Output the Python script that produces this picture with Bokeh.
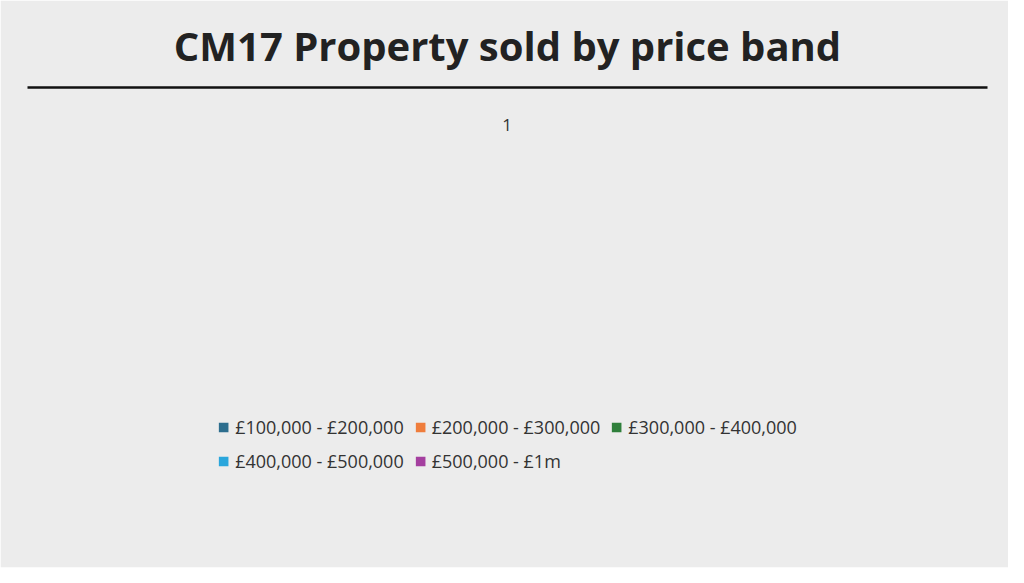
from bokeh.plotting import figure
from bokeh.models import ColumnDataSource, Legend, LegendItem, Title, FixedTicker
from bokeh.core.properties import value
from bokeh.embed import file_html
from bokeh.resources import INLINE

bands = ["£100,000 - £200,000", "£200,000 - £300,000", "£300,000 - £400,000",
         "£400,000 - £500,000", "£500,000 - £1m"]
counts = [3, 8, 15, 8, 8]
colors = ["#2d6e8e", "#ef7d3c", "#2f7f3b", "#2aa6dc", "#a43f9f"]
xs = [0, 1, 2, 3, 4]

p = figure(width=1008, height=567, output_backend="svg", toolbar_location=None,
           x_range=(-0.825, 4.83), y_range=(0, 16),
           background_fill_color="#efefef", border_fill_color="#ececec",
           min_border_left=27, min_border_right=21, min_border_top=10, min_border_bottom=10)
p.outline_line_color = None
t = Title(text="CM17 Property sold by price band", align="center",
          text_font="Open Sans", text_font_size="40px", text_font_style="bold",
          text_color="#222222", standoff=30)
p.add_layout(t, "above")

src = ColumnDataSource(dict(x=xs, top=counts, c=colors, band=bands,
                            lab=[str(v) for v in counts]))
r = p.vbar(x="x", top="top", width=0.99, fill_color="c", line_color=None, source=src)
p.text(x="x", y="top", text="lab", y_offset=27, text_align="center", text_baseline="middle",
       text_color="white", text_font=value("Open Sans"), text_font_style="bold",
       text_font_size="17px", source=src)

p.yaxis.visible = False
p.ygrid.ticker = FixedTicker(ticks=list(range(2, 17, 2)))
p.ygrid.grid_line_color = "#cfcfcf"
p.ygrid.grid_line_width = 1.5
p.xgrid.visible = False
p.xaxis.ticker = FixedTicker(ticks=[2])
p.xaxis.major_label_overrides = {2: "1"}
p.xaxis.major_tick_line_color = None
p.xaxis.minor_tick_line_color = None
p.xaxis.axis_line_color = "#111111"
p.xaxis.axis_line_width = 2.5
p.xaxis.major_label_standoff = 25
p.xaxis.major_label_text_font = "Open Sans"
p.xaxis.major_label_text_font_size = "17px"
p.xaxis.major_label_text_color = "#333333"

items = [LegendItem(label=b, renderers=[r], index=i) for i, b in enumerate(bands)]
leg = Legend(items=items, orientation="horizontal", ncols=3, location="center",
             label_text_font="Open Sans", label_text_font_size="18px",
             label_text_color="#333333", glyph_width=12, glyph_height=12,
             background_fill_alpha=0, border_line_color=None, spacing=10,
             label_standoff=6, padding=10, margin=25)
p.add_layout(leg, "below")

open("out.html", "w").write(file_html(p, INLINE))
